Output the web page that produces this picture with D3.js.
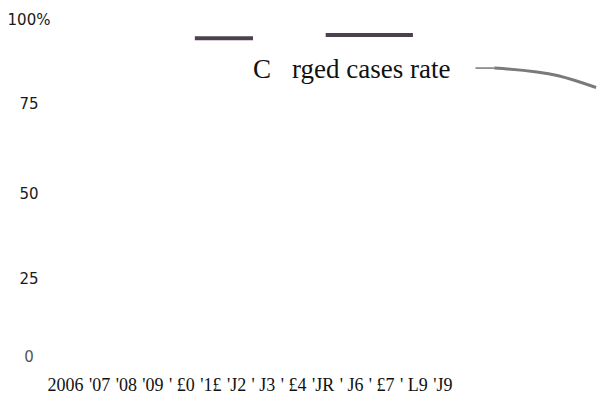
<!DOCTYPE html>
<html lang="en">
<head>
    <meta charset="utf-8">
    <title>Charged cases rate</title>
    <style>
        body { margin: 0; background: #fff; }
    </style>
</head>
<body>
    <div id="chart"></div>
    <script src="https://cdnjs.cloudflare.com/ajax/libs/d3/7.8.5/d3.min.js"></script>
    <script type="text/javascript">

        var xLabels = ["2006", "'07", "'08", "'09", "' \u00a30", "'1\u00a3", "'J2", "' J3", "' \u00a34", "'JR", "' J6", "' \u00a37", "' L9", "'J9"];
        var yTicks = [0, 25, 50, 75, 100];
        var yTickLabels = ["0", "25", "50", "75", "100%"];

        // flat pieces near the top
        var segmentA = [{year: 2010.5, value: 94.6}, {year: 2012.5, value: 94.6}];
        var segmentB = [{year: 2015, value: 95.5}, {year: 2018, value: 95.5}];
        // the rate line at the right edge
        var rateLine = [{year: 2020.8, value: 85.7}, {year: 2023, value: 83.4}, {year: 2024.3, value: 79.9}];
        var leader = [{year: 2020.15, value: 85.7}, {year: 2020.8, value: 85.7}];
        var seriesName = ["C", "rged cases rate"];

        var width = 605, height = 413;
        var labelFont = 18;

        var svg = d3.select("#chart")
                    .append("svg")
                    .attr("width", width)
                    .attr("height", height);

        // measure the x labels so they sit in one row like a sentence
        var probe = svg.append("text")
                       .attr("font-family", "Liberation Serif")
                       .attr("font-size", labelFont);
        var widths = xLabels.map(function(t){
            probe.text(t);
            return probe.node().getComputedTextLength();
        });
        probe.remove();
        var rowStart = 47, rowEnd = 452;
        var gap = (rowEnd - rowStart - d3.sum(widths)) / (xLabels.length - 1);
        var starts = [];
        widths.reduce(function(acc, w){ starts.push(acc); return acc + w + gap; }, rowStart);

        var xLab = d3.scaleOrdinal()
                     .domain(xLabels)
                     .range(starts);

        var x = d3.scaleLinear()
                  .domain([2006, 2019])
                  .range([64, 442]);

        var y = d3.scaleLinear()
                  .domain(yTicks)
                  .range([357, 279, 194, 104, 20]);

        // y axis labels
        var yAxis = d3.axisLeft(y)
                      .tickValues(yTicks)
                      .tickSize(0)
                      .tickFormat(function(d, i){ return yTickLabels[i]; });
        var gy = svg.append("g")
                    .attr("transform", "translate(29,0)")
                    .call(yAxis);
        gy.select(".domain").remove();
        gy.selectAll("text")
          .attr("x", 0)
          .attr("text-anchor", "middle")
          .attr("font-family", "DejaVu Sans")
          .attr("font-size", 15)
          .attr("fill", function(d){ return d === 0 ? "#555" : "#1a1a1a"; });

        // x axis labels
        var xAxis = d3.axisBottom(xLab).tickSize(0);
        var gx = svg.append("g")
                    .attr("transform", "translate(0,375)")
                    .call(xAxis);
        gx.select(".domain").remove();
        gx.selectAll("text")
          .attr("y", 0)
          .attr("dy", "0.9em")
          .attr("text-anchor", "start")
          .attr("font-family", "Liberation Serif")
          .attr("font-size", labelFont)
          .attr("fill", "#111");

        var line = d3.line()
                     .x(function(d){ return x(d.year); })
                     .y(function(d){ return y(d.value); });

        [segmentA, segmentB].forEach(function(seg){
            svg.append("path")
               .datum(seg)
               .attr("d", line)
               .attr("fill", "none")
               .attr("stroke", "#4b4250")
               .attr("stroke-width", 4);
        });

        svg.append("path")
           .datum(leader)
           .attr("d", line)
           .attr("fill", "none")
           .attr("stroke", "#333")
           .attr("stroke-width", 1);

        svg.append("path")
           .datum(rateLine)
           .attr("d", line.curve(d3.curveMonotoneX))
           .attr("fill", "none")
           .attr("stroke", "#7a7a7a")
           .attr("stroke-width", 3);

        // series label
        svg.append("text")
           .text(seriesName[0])
           .attr("x", 253)
           .attr("y", 78)
           .attr("font-family", "Liberation Serif")
           .attr("font-size", 27)
           .attr("fill", "#111");
        svg.append("text")
           .text(seriesName[1])
           .attr("x", 292)
           .attr("y", 78)
           .attr("font-family", "Liberation Serif")
           .attr("font-size", 27)
           .attr("fill", "#111");
    </script>
</body>
</html>
